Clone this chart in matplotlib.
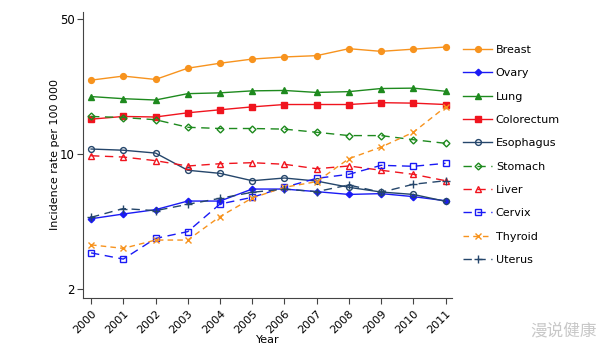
import matplotlib
matplotlib.use("Agg")
import matplotlib.pyplot as plt
from matplotlib.ticker import FixedLocator, FixedFormatter, NullLocator

years = list(range(2000, 2012))

breast     = [24.2, 25.4, 24.4, 27.9, 29.6, 31.1, 31.9, 32.4, 35.2, 34.1, 35.0, 35.9]
ovary      = [4.64, 4.91, 5.17, 5.73, 5.73, 6.61, 6.61, 6.41, 6.20, 6.26, 6.04, 5.75]
lung       = [19.9, 19.4, 19.1, 20.6, 20.8, 21.3, 21.4, 20.9, 21.1, 21.9, 22.0, 21.2]
colorectum = [15.2, 15.7, 15.6, 16.4, 17.0, 17.6, 18.1, 18.1, 18.1, 18.5, 18.4, 18.1]
esophagus  = [10.65, 10.5, 10.15, 8.27, 7.97, 7.30, 7.54, 7.27, 6.75, 6.38, 6.20, 5.71]
stomach    = [15.7, 15.5, 15.1, 13.8, 13.6, 13.6, 13.5, 13.0, 12.5, 12.5, 11.9, 11.4]
liver      = [9.83, 9.68, 9.27, 8.70, 8.94, 9.05, 8.88, 8.42, 8.70, 8.27, 7.88, 7.30]
cervix     = [3.09, 2.87, 3.67, 3.98, 5.53, 5.99, 6.75, 7.51, 7.88, 8.77, 8.67, 8.98]
thyroid    = [3.40, 3.26, 3.60, 3.60, 4.76, 5.94, 6.75, 7.22, 9.49, 10.9, 13.0, 17.6]
uterus     = [4.72, 5.24, 5.11, 5.51, 5.92, 6.36, 6.61, 6.41, 6.94, 6.36, 7.00, 7.30]

y_ticks = [2, 10, 50]
y_tick_labels = ["2", "10", "50"]

series = [
    ("Breast", breast, dict(color="#F7931E", ls="-", marker="o", mfc="#F7931E", ms=4.2)),
    ("Ovary", ovary, dict(color="#1A1AF5", ls="-", marker="D", mfc="#1A1AF5", ms=3.3)),
    ("Lung", lung, dict(color="#1E8A1E", ls="-", marker="^", mfc="#1E8A1E", ms=4.8)),
    ("Colorectum", colorectum, dict(color="#F0141E", ls="-", marker="s", mfc="#F0141E", ms=4.6)),
    ("Esophagus", esophagus, dict(color="#25466B", ls="-", marker="o", mfc="none", ms=4.2)),
    ("Stomach", stomach, dict(color="#1E8A1E", ls=(0, (6, 4)), marker="D", mfc="none", ms=3.5)),
    ("Liver", liver, dict(color="#F0141E", ls=(0, (6, 4)), marker="^", mfc="none", ms=4.8)),
    ("Cervix", cervix, dict(color="#1A1AF5", ls=(0, (6, 4)), marker="s", mfc="none", ms=4.2)),
    ("Thyroid", thyroid, dict(color="#F7931E", ls=(0, (4, 3)), marker="x", mfc="none", ms=4.2)),
    ("Uterus", uterus, dict(color="#25466B", ls=(0, (6, 4)), marker="+", mfc="none", ms=5.5)),
]

fig = plt.figure(figsize=(6.12, 3.5), dpi=100)
ax = fig.add_axes([83/612, 52/350, (452-83)/612, (298-12)/350])

for name, vals, st in series:
    c = st["color"]
    ax.plot(years, vals, linestyle=st["ls"], color=c, lw=1.0, marker=st["marker"],
            ms=st["ms"], mfc=st["mfc"], mec=c, mew=1.0, label=name)

ax.set_yscale("log")
ax.set_ylim(1.805, 54.5)
ax.set_xlim(1999.75, 2011.2)
ax.yaxis.set_major_locator(FixedLocator(y_ticks))
ax.yaxis.set_major_formatter(FixedFormatter(y_tick_labels))
ax.yaxis.set_minor_locator(NullLocator())
ax.set_xticks(years)
ax.set_xticklabels([str(y) for y in years], rotation=45, ha="right", rotation_mode="anchor", fontsize=8)
ax.tick_params(axis="y", labelsize=8.5, pad=2)
ax.tick_params(direction="out", length=4, width=0.8, color="#444444")

for s in ["top", "right"]:
    ax.spines[s].set_visible(False)
for s in ["left", "bottom"]:
    ax.spines[s].set_color("#444444")
    ax.spines[s].set_linewidth(0.8)

ax.set_ylabel("Incidence rate per 100 000", fontsize=8)
ax.yaxis.set_label_coords(-0.062, 0.5)
ax.set_xlabel("Year", fontsize=8)
ax.xaxis.set_label_coords(0.5, -0.13)

leg = ax.legend(loc="upper left", bbox_to_anchor=(1.03, 0.885), frameon=False, fontsize=8,
                handlelength=2.6, labelspacing=1.2, handletextpad=0.35,
                borderaxespad=0, borderpad=0)

fig.text(0.975, 0.03, "漫说健康", fontsize=12, color="#c8c8c8", ha="right", va="bottom",
         family=["Noto Sans CJK SC", "DejaVu Sans"])

fig.savefig("out.png", dpi=100)
